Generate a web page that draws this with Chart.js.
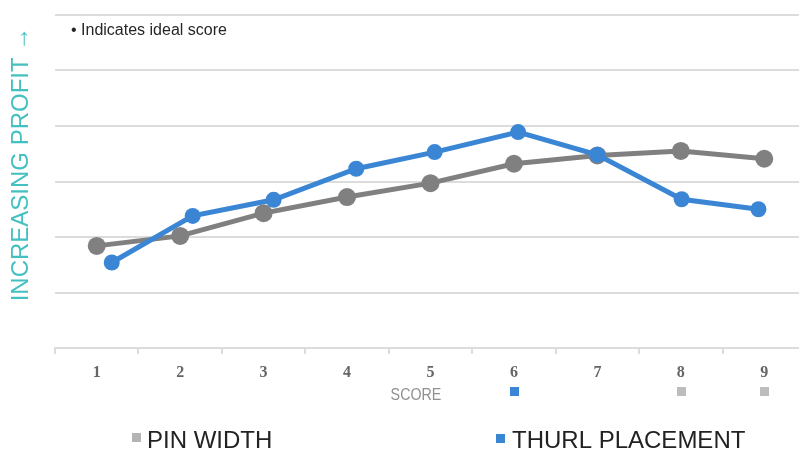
<!DOCTYPE html>
<html>
<head>
<meta charset="utf-8">
<script src="https://cdn.jsdelivr.net/npm/chart.js@4/dist/chart.umd.min.js"></script>
<style>
  html, body { margin: 0; padding: 0; background: #fff; overflow: hidden; }
  #wrap { position: relative; width: 815px; height: 450px; }
</style>
</head>
<body>
<div id="wrap"><canvas id="chart"></canvas></div>
<script>
// Score categories along the bottom axis
const scores = ['1', '2', '3', '4', '5', '6', '7', '8', '9'];
// Relative profit for each pin-width score
const pinWidth = [1.84, 2.02, 2.43, 2.72, 2.97, 3.32, 3.47, 3.55, 3.41];
// Thurl placement: score position and relative profit
const thurlScore = [1.18, 2.15, 3.12, 4.11, 5.05, 6.05, 7.00, 8.01, 8.93];
const thurlPlacement = [1.54, 2.38, 2.67, 3.23, 3.53, 3.89, 3.48, 2.68, 2.50];
// Ideal scores for each trait
const idealScores = [
  { score: '6', series: 'thurl' },
  { score: '8', series: 'pin' },
  { score: '9', series: 'pin' }
];

const GRAY = '#808080';
const BLUE = '#3b86d4';
const GRID = '#dcdcdc';

const extras = {
  id: 'extras',
  afterDraw(chart) {
    const { ctx, chartArea, scales } = chart;
    ctx.save();

    // vertical axis title
    ctx.save();
    ctx.translate(21, chartArea.top + 149);
    ctx.rotate(-Math.PI / 2);
    ctx.fillStyle = '#45c0c0';
    ctx.font = '24px "Liberation Sans", Arial, sans-serif';
    ctx.textAlign = 'center';
    ctx.textBaseline = 'middle';
    ctx.fillText('INCREASING PROFIT \u2192', 0, 0);
    ctx.restore();

    // note in the top-left corner
    ctx.fillStyle = '#262626';
    ctx.font = '16px "Liberation Sans", Arial, sans-serif';
    ctx.textAlign = 'left';
    ctx.textBaseline = 'middle';
    ctx.fillText('\u2022 Indicates ideal score', 71, 31);

    // horizontal axis title, set in a condensed width
    ctx.save();
    ctx.translate(416, 395);
    ctx.scale(0.84, 1);
    ctx.fillStyle = '#909090';
    ctx.font = '17px "Liberation Sans", Arial, sans-serif';
    ctx.textAlign = 'center';
    ctx.fillText('SCORE', 0, 0);
    ctx.restore();

    // ideal score markers under the category labels
    idealScores.forEach(m => {
      const x = scales.x.getPixelForValue(scores.indexOf(m.score));
      ctx.fillStyle = m.series === 'thurl' ? BLUE : '#bdbdbd';
      ctx.fillRect(Math.round(x) - 4, 387, 9, 9);
    });

    // legend
    ctx.font = '24px "Liberation Sans", Arial, sans-serif';
    ctx.textBaseline = 'alphabetic';
    ctx.textAlign = 'left';
    ctx.fillStyle = '#b4b4b4';
    ctx.fillRect(132, 433, 9, 9);
    ctx.fillStyle = '#222';
    ctx.fillText('PIN WIDTH', 147, 448);
    ctx.fillStyle = BLUE;
    ctx.fillRect(496, 434, 9, 9);
    ctx.fillStyle = '#222';
    ctx.fillText('THURL PLACEMENT', 512, 448);

    ctx.restore();
  }
};

new Chart(document.getElementById('chart'), {
  type: 'line',
  data: {
    labels: scores,
    datasets: [
      {
        label: 'PIN WIDTH',
        data: pinWidth,
        xAxisID: 'x',
        borderColor: GRAY,
        backgroundColor: GRAY,
        borderWidth: 5,
        pointRadius: 9,
        pointBorderWidth: 0,
        pointBackgroundColor: GRAY,
        tension: 0,
        order: 1
      },
      {
        label: 'THURL PLACEMENT',
        data: thurlScore.map((s, i) => ({ x: s, y: thurlPlacement[i] })),
        xAxisID: 'x2',
        borderColor: BLUE,
        backgroundColor: BLUE,
        borderWidth: 5,
        pointRadius: 8,
        pointBorderWidth: 0,
        pointBackgroundColor: BLUE,
        tension: 0,
        order: 0
      }
    ]
  },
  options: {
    responsive: true,
    maintainAspectRatio: false,
    devicePixelRatio: 1,
    animation: false,
    layout: { padding: { left: 0, top: 15, right: 7, bottom: 0 } },
    plugins: { legend: { display: false }, tooltip: { enabled: false } },
    scales: {
      x: {
        type: 'category',
        offset: true,
        grid: {
          display: true,
          offset: true,
          drawOnChartArea: false,
          drawTicks: true,
          tickLength: 6,
          color: GRID,
          lineWidth: 2
        },
        border: { display: true, color: GRID, width: 2 },
        ticks: {
          color: '#666',
          padding: 9,
          font: { family: '"Liberation Serif", serif', size: 16, weight: 'bold' }
        },
        afterFit(scale) { scale.height = 102; }
      },
      x2: {
        type: 'linear',
        display: false,
        min: 0.5,
        max: 9.5
      },
      y: {
        min: 0,
        max: 6,
        ticks: { display: false, stepSize: 1 },
        grid: { color: GRID, lineWidth: 2, drawTicks: false },
        border: { display: false },
        afterFit(scale) { scale.width = 55; }
      }
    }
  },
  plugins: [extras]
});
</script>
</body>
</html>
